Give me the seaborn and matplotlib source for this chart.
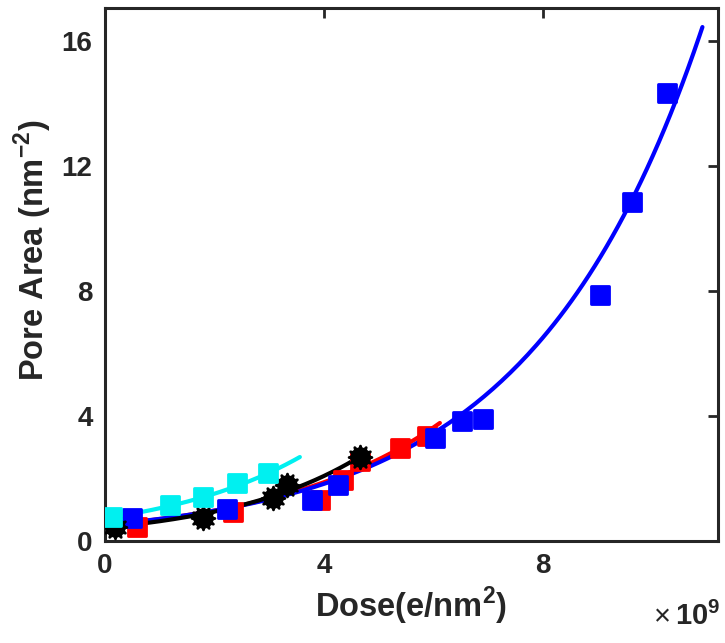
import numpy as np
import pandas as pd
import matplotlib
matplotlib.use("Agg")
import matplotlib.pyplot as plt
import seaborn as sns

# Mesures (dose en unités de 1e9 e/nm^2, aire en nm^-2)
dose_bleu = [0.50, 2.23, 3.78, 4.26, 6.03, 6.52, 6.90, 9.04, 9.64, 10.28]
aire_bleu = [0.72, 1.00, 1.30, 1.78, 3.30, 3.82, 3.90, 7.85, 10.85, 14.33]

dose_rouge = [0.58, 2.34, 3.93, 4.35, 4.66, 5.39, 5.88]
aire_rouge = [0.45, 0.93, 1.31, 1.95, 2.55, 2.97, 3.35]

dose_noir = [0.18, 1.79, 3.07, 3.32, 4.66]
aire_noir = [0.45, 0.74, 1.37, 1.79, 2.69]

dose_cyan = [0.13, 1.19, 1.79, 2.41, 2.98]
aire_cyan = [0.77, 1.15, 1.41, 1.85, 2.17]

# Ajustements exponentiels y = a * exp(b * x)
fit_bleu = (0.51, 0.318, 0.33, 10.92)   # a, b, x_debut, x_fin
fit_rouge = (0.50, 0.330, 0.45, 6.12)
fit_noir = (0.42, 0.399, 0.10, 4.68)
fit_cyan = (0.72, 0.369, 0.10, 3.56)

sns.set_theme(style="white")
plt.rcParams["font.family"] = ["Liberation Sans", "DejaVu Sans"]
plt.rcParams["mathtext.fontset"] = "custom"
plt.rcParams["mathtext.rm"] = "Liberation Sans:bold"
plt.rcParams["mathtext.bf"] = "Liberation Sans:bold"

fig = plt.figure(figsize=(7.25, 6.43), dpi=100)
ax = fig.add_axes([0.145, 0.159, 0.845, 0.829])


def courbe_fit(params, couleur):
    a, b, x0, x1 = params
    xs = np.linspace(x0, x1, 200)
    df = pd.DataFrame({"x": xs, "y": a * np.exp(b * xs)})
    sns.lineplot(data=df, x="x", y="y", color=couleur, linewidth=3.0, ax=ax)


def points(dose, aire, couleur, marker, size):
    df = pd.DataFrame({"x": dose, "y": aire})
    sns.scatterplot(data=df, x="x", y="y", color=couleur, marker=marker,
                    s=size, edgecolor=couleur, linewidth=2.0, ax=ax, zorder=3)


# rouge puis bleu, noir, cyan (ordre de superposition)
courbe_fit(fit_rouge, "#ff0000")
points(dose_rouge, aire_rouge, "#ff0000", "s", 150)
courbe_fit(fit_bleu, "#0000ff")
points(dose_bleu, aire_bleu, "#0000ff", "s", 150)
courbe_fit(fit_noir, "black")
points(dose_noir, aire_noir, "black", "o", 160)
points(dose_noir, aire_noir, "black", (12, 1, 0), 270)
courbe_fit(fit_cyan, "#00f0f0")
points(dose_cyan, aire_cyan, "#00f0f0", "s", 150)

ax.set_xlim(0, 11.2)
ax.set_ylim(0, 17.05)
ax.set_xticks([0, 4, 8])
ax.set_yticks([0, 4, 8, 12, 16])
ax.tick_params(direction="in", length=7, width=2, top=True, right=True,
               labelsize=20, color="#262626", pad=9)
for lab in ax.get_xticklabels() + ax.get_yticklabels():
    lab.set_fontweight("bold")
    lab.set_color("#262626")
for sp in ax.spines.values():
    sp.set_linewidth(2.2)
    sp.set_color("#262626")

ax.set_xlabel(r"Dose(e/nm$^{2}$)", fontsize=23.5, fontweight="bold",
              color="#262626", labelpad=4)
ax.set_ylabel(r"Pore Area (nm$^{-2}$)", fontsize=23.5, fontweight="bold",
              color="#262626")
ax.yaxis.set_label_coords(-0.083, 0.545)

# facteur d'échelle de l'axe x
fig.text(0.993, 0.028, r"$\mathbf{10^{9}}$", ha="right", va="baseline",
         fontsize=21, color="#262626")
fig.text(0.926, 0.028, "×", ha="right", va="baseline", fontsize=21,
         color="#262626")

fig.savefig("out.png", dpi=100)
